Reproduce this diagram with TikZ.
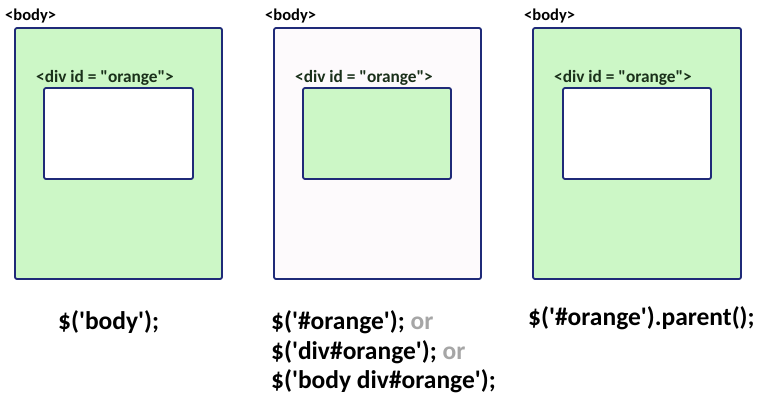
\documentclass[tikz,border=0pt]{standalone}
\usepackage{fontspec}
\setmainfont{Carlito}
\definecolor{boxgreen}{HTML}{CCF7C6}
\definecolor{boxpink}{HTML}{FDFAFC}
\definecolor{edgeblue}{HTML}{1F2A78}
\definecolor{divtext}{HTML}{1A301A}
\definecolor{orgrey}{HTML}{A6A6A6}
\newcommand{\sq}{\textquotesingle}
\newcommand{\dq}{\textquotedbl}
\tikzset{
  outerbox/.style={draw=edgeblue, line width=1.8pt, rounded corners=2pt},
  innerbox/.style={draw=edgeblue, line width=1.8pt, rounded corners=2pt},
  tag/.style={font=\bfseries\fontsize{16.5}{17}\selectfont, anchor=west, inner sep=0pt},
  divtag/.style={font=\bfseries\fontsize{17.3}{18}\selectfont, anchor=west, inner sep=0pt, text=divtext},
  code/.style={font=\bfseries\fontsize{25.5}{30}\selectfont, anchor=west, inner sep=0pt}
}
\begin{document}
\begin{tikzpicture}[x=1pt,y=-1pt]
\useasboundingbox (0,0) rectangle (762,396);
% panel 1
\draw[outerbox, fill=boxgreen] (15,28) rectangle (222,279);
\draw[innerbox, fill=white] (44,88) rectangle (193,179);
\node[tag] (b1) at (5,16) {<body>};
\node[divtag] (d1) at (36,78) {<div id = \dq orange\dq>};
% panel 2
\draw[outerbox, fill=boxpink] (274,28) rectangle (481,279);
\draw[innerbox, fill=boxgreen] (303,88) rectangle (451,179);
\node[tag] (b2) at (265,16) {<body>};
\node[divtag] (d2) at (295,78) {<div id = \dq orange\dq>};
% panel 3
\draw[outerbox, fill=boxgreen] (533,28) rectangle (741,279);
\draw[innerbox, fill=white] (563,88) rectangle (711,179);
\node[tag] (b3) at (524,16) {<body>};
\node[divtag] (d3) at (554,78) {<div id = \dq orange\dq>};
% code
\node[code] (c1) at (58,322) {\$(\sq body\sq);};
\node[code] (c2a) at (271,322) {\$(\sq\#orange\sq); \textcolor{orgrey}{or}};
\node[code] (c2b) at (271,352) {\$(\sq div\#orange\sq); \textcolor{orgrey}{or}};
\node[code] (c2c) at (271,381) {\$(\sq body div\#orange\sq);};
\node[code] (c3) at (528,318) {\$(\sq\#orange\sq).parent();};
\end{tikzpicture}
\end{document}
